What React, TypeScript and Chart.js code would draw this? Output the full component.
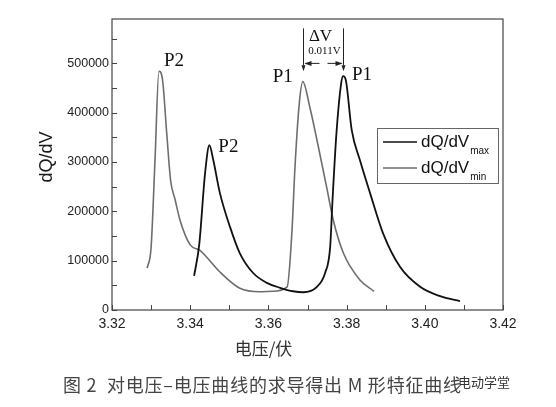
import { useEffect, useRef } from "react";
import { Chart, registerables } from "chart.js";

Chart.register(...registerables);

// dQ/dV_min series (gray)
const minVoltage = [3.329, 3.33, 3.331, 3.332, 3.3329, 3.334, 3.335, 3.3361, 3.3374, 3.34, 3.3425, 3.344, 3.3476, 3.3527, 3.3578, 3.361, 3.3648, 3.366, 3.3668, 3.3679, 3.3688, 3.3706, 3.3728, 3.3749, 3.3766, 3.3792, 3.3834, 3.387];
const minDqdv = [85000, 127000, 304000, 484000, 468000, 358000, 262000, 225000, 182000, 132000, 121000, 109000, 77000, 44000, 37000, 38000, 47000, 156000, 290000, 419000, 463000, 411000, 330000, 249000, 182000, 115000, 61000, 38000];

// dQ/dV_max series (black)
const maxVoltage = [3.341, 3.3423, 3.3438, 3.3449, 3.3459, 3.3476, 3.3502, 3.3527, 3.3561, 3.3596, 3.363, 3.3663, 3.3689, 3.3724, 3.3745, 3.3758, 3.3764, 3.3774, 3.3786, 3.3791, 3.3798, 3.3813, 3.3834, 3.386, 3.3893, 3.3937, 3.3988, 3.4039, 3.409];
const maxDqdv = [69000, 132000, 277000, 334000, 304000, 237000, 168000, 115000, 75000, 55000, 45000, 38000, 36000, 47000, 75000, 128000, 223000, 358000, 459000, 474000, 466000, 365000, 304000, 237000, 156000, 87000, 47000, 28000, 18000];

const xTicks = [3.32, 3.34, 3.36, 3.38, 3.4, 3.42];
const xMinorTicks = [3.32, 3.33, 3.34, 3.35, 3.36, 3.37, 3.38, 3.39, 3.4, 3.41, 3.42];
const yTicks = [0, 100000, 200000, 300000, 400000, 500000];
const yMinorTicks = [0, 50000, 100000, 150000, 200000, 250000, 300000, 350000, 400000, 450000, 500000, 550000];

const seriesNames = ["max", "min"];
const seriesColors = ["#111111", "#6e6e6e"];
const deltaLabel = "0.011V";
const xTitle = "电压/伏";
const yTitle = "dQ/dV";
const caption = "图 2  对电压–电压曲线的求导得出 M 形特征曲线";
const watermark = "电动学堂";

const SANS = '"Liberation Sans", Arial, sans-serif';
const SERIF = '"Liberation Serif", "Times New Roman", serif';
const CJK = '"Noto Sans CJK SC", sans-serif';

// peak of a series within a voltage window
function peakOf(xs: number[], ys: number[], lo: number, hi: number) {
  let best = -1;
  xs.forEach((x, k) => {
    if (x >= lo && x <= hi && (best < 0 || ys[k] > ys[best])) best = k;
  });
  return { x: xs[best], y: ys[best] };
}

const decorPlugin = {
  id: "decor",
  afterDraw(chart: any) {
    const ctx = chart.ctx as CanvasRenderingContext2D;
    const { left, right, top, bottom } = chart.chartArea;
    const xs = chart.scales.x;
    const ys = chart.scales.y;
    ctx.save();

    // frame
    ctx.strokeStyle = "#444";
    ctx.lineWidth = 1.2;
    ctx.strokeRect(left, top, right - left, bottom - top);

    // inward ticks
    ctx.lineWidth = 1;
    ctx.beginPath();
    xMinorTicks.forEach((v) => {
      const px = Math.round(xs.getPixelForValue(v)) + 0.5;
      ctx.moveTo(px, bottom);
      ctx.lineTo(px, bottom - 5);
    });
    yMinorTicks.forEach((v) => {
      const py = Math.round(ys.getPixelForValue(v)) + 0.5;
      ctx.moveTo(left, py);
      ctx.lineTo(left + 5, py);
    });
    ctx.stroke();

    // axis titles
    ctx.fillStyle = "#1a1a1a";
    ctx.font = `18px ${SANS}`;
    ctx.textAlign = "center";
    ctx.textBaseline = "middle";
    ctx.save();
    ctx.translate(47, 157);
    ctx.rotate(-Math.PI / 2);
    ctx.fillText(yTitle, 0, 0);
    ctx.restore();

    ctx.fillStyle = "#333";
    ctx.font = `17px ${CJK}`;
    ctx.fillText(xTitle, (left + right) / 2 - 44, 349);

    // caption
    ctx.fillStyle = "#444";
    ctx.font = `18px ${CJK}`;
    ctx.textAlign = "left";
    const plain = ctx.measureText(caption).width;
    const spacing = (398 - plain) / (caption.length - 1);
    (ctx as any).letterSpacing = `${spacing}px`;
    ctx.fillText(caption, 63, 385);
    (ctx as any).letterSpacing = "0px";

    // watermark
    ctx.fillStyle = "#333";
    ctx.font = `13px ${CJK}`;
    ctx.fillText(watermark, 458, 382);

    // peak annotations
    const p2Min = peakOf(minVoltage, minDqdv, 3.32, 3.34);
    const p2Max = peakOf(maxVoltage, maxDqdv, 3.34, 3.35);
    const p1Min = peakOf(minVoltage, minDqdv, 3.36, 3.39);
    const p1Max = peakOf(maxVoltage, maxDqdv, 3.37, 3.39);

    ctx.fillStyle = "#111";
    ctx.font = `19px ${SERIF}`;
    ctx.textAlign = "center";
    ctx.fillText("P2", xs.getPixelForValue(p2Min.x) + 15, ys.getPixelForValue(p2Min.y) - 10);
    ctx.fillText("P2", xs.getPixelForValue(p2Max.x) + 19, ys.getPixelForValue(p2Max.y) + 2);
    ctx.fillText("P1", xs.getPixelForValue(p1Min.x) - 20, ys.getPixelForValue(p1Min.y) - 5);
    ctx.fillText("P1", xs.getPixelForValue(p1Max.x) + 19, ys.getPixelForValue(p1Max.y) - 1);

    const xa = Math.round(xs.getPixelForValue(p1Min.x)) + 0.5;
    const xb = Math.round(xs.getPixelForValue(p1Max.x)) + 0.5;
    const yTop = ys.getPixelForValue(571000);
    const yArrow = ys.getPixelForValue(500000);
    const yBot = ys.getPixelForValue(488000);

    ctx.strokeStyle = "#222";
    ctx.lineWidth = 1;
    ctx.beginPath();
    ctx.moveTo(xa, yTop);
    ctx.lineTo(xa, yBot - 4);
    ctx.moveTo(xb, yTop);
    ctx.lineTo(xb, yBot - 4);
    ctx.moveTo(xa + 2, yArrow);
    ctx.lineTo(xa + 16, yArrow);
    ctx.moveTo(xb - 16, yArrow);
    ctx.lineTo(xb - 2, yArrow);
    ctx.stroke();

    ctx.fillStyle = "#222";
    const tri = (x: number, y: number, dir: "l" | "r" | "d") => {
      ctx.beginPath();
      if (dir === "l") {
        ctx.moveTo(x, y);
        ctx.lineTo(x + 7, y - 2.5);
        ctx.lineTo(x + 7, y + 2.5);
      } else if (dir === "r") {
        ctx.moveTo(x, y);
        ctx.lineTo(x - 7, y - 2.5);
        ctx.lineTo(x - 7, y + 2.5);
      } else {
        ctx.moveTo(x, y);
        ctx.lineTo(x - 2, y - 6);
        ctx.lineTo(x + 2, y - 6);
      }
      ctx.closePath();
      ctx.fill();
    };
    tri(xa + 1, yArrow, "l");
    tri(xb - 1, yArrow, "r");
    tri(xa, yBot + 2, "d");
    tri(xb, yBot + 2, "d");

    ctx.fillStyle = "#111";
    ctx.font = `17px ${SERIF}`;
    ctx.fillText("ΔV", (xa + xb) / 2 - 3, yTop + 8);
    ctx.font = `11px ${SERIF}`;
    ctx.fillText(deltaLabel, (xa + xb) / 2 + 1, yTop + 23);

    // legend
    const lx = 377;
    const ly = 128;
    const lw = 121;
    const lh = 55;
    ctx.fillStyle = "#fff";
    ctx.fillRect(lx, ly, lw, lh);
    ctx.strokeStyle = "#666";
    ctx.lineWidth = 1;
    ctx.strokeRect(lx + 0.5, ly + 0.5, lw, lh);
    seriesNames.forEach((name, i) => {
      const cy = ly + 14 + i * 26;
      ctx.strokeStyle = seriesColors[i];
      ctx.lineWidth = 1.6;
      ctx.beginPath();
      ctx.moveTo(lx + 6, cy);
      ctx.lineTo(lx + 40, cy);
      ctx.stroke();
      ctx.fillStyle = "#111";
      ctx.textAlign = "left";
      ctx.textBaseline = "middle";
      ctx.font = `17px ${SANS}`;
      ctx.fillText(yTitle, lx + 44, cy);
      const w = ctx.measureText(yTitle).width;
      ctx.font = `10px ${SANS}`;
      ctx.fillText(name, lx + 45 + w, cy + 9);
    });

    ctx.restore();
  },
};

export default function App() {
  const ref = useRef<HTMLCanvasElement | null>(null);

  useEffect(() => {
    document.body.style.margin = "0";
    if (!ref.current) return;
    const chart = new Chart(ref.current, {
      type: "line",
      data: {
        datasets: [
          {
            label: "dQ/dV max",
            data: maxVoltage.map((x, i) => ({ x, y: maxDqdv[i] })),
            borderColor: seriesColors[0],
            borderWidth: 1.8,
            pointRadius: 0,
            cubicInterpolationMode: "monotone",
            fill: false,
          },
          {
            label: "dQ/dV min",
            data: minVoltage.map((x, i) => ({ x, y: minDqdv[i] })),
            borderColor: seriesColors[1],
            borderWidth: 1.6,
            pointRadius: 0,
            cubicInterpolationMode: "monotone",
            fill: false,
          },
        ],
      },
      options: {
        animation: false,
        responsive: false,
        devicePixelRatio: 1,
        layout: { padding: { left: 0, top: 19, right: 53, bottom: 0 } },
        plugins: {
          legend: { display: false },
          tooltip: { enabled: false },
          title: { display: false },
        },
        scales: {
          x: {
            type: "linear",
            min: 3.32,
            max: 3.42,
            afterBuildTicks: (s: any) => {
              s.ticks = xTicks.map((v) => ({ value: v }));
            },
            afterFit: (s: any) => {
              s.height = 97;
            },
            grid: { display: false, drawTicks: false },
            border: { display: false },
            ticks: {
              padding: 6,
              color: "#222",
              font: { family: SANS, size: 14 },
              maxRotation: 0,
              callback: (v: any) => Number(v).toFixed(2),
            },
          },
          y: {
            type: "linear",
            min: 0,
            max: 590000,
            afterBuildTicks: (s: any) => {
              s.ticks = yTicks.map((v) => ({ value: v }));
            },
            afterFit: (s: any) => {
              s.width = 112;
            },
            grid: { display: false, drawTicks: false },
            border: { display: false },
            ticks: {
              padding: 3,
              color: "#222",
              font: { family: SANS, size: 12.5 },
              callback: (v: any) => String(v),
            },
          },
        },
      },
      plugins: [decorPlugin],
    });
    return () => chart.destroy();
  }, []);

  return (
    <div style={{ width: 556, height: 407, background: "#fff" }}>
      <canvas ref={ref} width={556} height={407} style={{ display: "block" }} />
    </div>
  );
}
